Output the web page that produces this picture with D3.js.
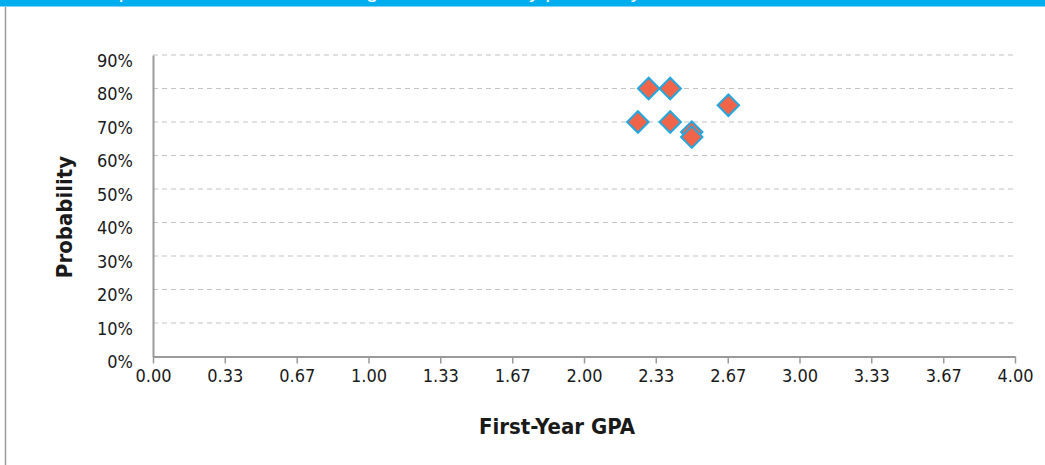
<!DOCTYPE html>
<html>
<head>
<meta charset="utf-8">
<script src="https://cdn.jsdelivr.net/npm/d3@7"></script>
<style>
  html, body { margin: 0; padding: 0; background: #fff; }
  svg { display: block; font-family: "DejaVu Sans", sans-serif; font-stretch: condensed; }
</style>
</head>
<body>
<svg id="chart" width="1045" height="465"></svg>
<script>
// First-year GPA vs. probability, one point per student
const gpa         = [2.30, 2.40, 2.25, 2.40, 2.50, 2.50, 2.67];
const probability = [0.80, 0.80, 0.70, 0.70, 0.67, 0.655, 0.75];

const xTickValues = [0, 0.333, 0.667, 1, 1.333, 1.667, 2, 2.333, 2.667, 3, 3.333, 3.667, 4];
const xTickLabels = ["0.00", "0.33", "0.67", "1.00", "1.33", "1.67", "2.00", "2.33", "2.67", "3.00", "3.33", "3.67", "4.00"];
const yTickValues = [0, 0.1, 0.2, 0.3, 0.4, 0.5, 0.6, 0.7, 0.8, 0.9];
const yTickLabels = ["0%", "10%", "20%", "30%", "40%", "50%", "60%", "70%", "80%", "90%"];

const titleText = "Students' predicted chance of earning a certain GPA by probability";
const xTitle = "First-Year GPA";
const yTitle = "Probability";

const svg = d3.select("#chart");
const W = 1045, H = 465;
const textColor = "#1a1a1a";

// Header band and frame
svg.append("rect").attr("x", 0).attr("y", 0).attr("width", W).attr("height", 6).attr("fill", "#00AEEF");
svg.append("rect").attr("x", 0).attr("y", 6).attr("width", W).attr("height", 1).attr("fill", "#7FD3F4");
svg.append("text").attr("x", 26).attr("y", -2)
  .attr("fill", "#fff").attr("font-family", "Liberation Sans, Arial, sans-serif")
  .style("font-stretch", "normal")
  .attr("font-size", 21).text(titleText);
svg.append("line").attr("x1", 5.5).attr("x2", 5.5).attr("y1", 7).attr("y2", H)
  .attr("stroke", "#9a9a9a").attr("stroke-width", 1.5);

const x = d3.scaleLinear().domain([0, 4]).range([153, 1015]);
const y = d3.scaleLinear().domain([0, 0.9]).range([356.5, 55]);

// Horizontal dashed gridlines
svg.append("g").selectAll("line")
  .data(yTickValues.filter(v => v > 0))
  .join("line")
  .attr("x1", x(0)).attr("x2", x(4) - 2)
  .attr("y1", d => y(d)).attr("y2", d => y(d))
  .attr("stroke", "#c4c4c4").attr("stroke-width", 1.2)
  .attr("stroke-dasharray", "5,4");

// X axis
const xAxis = d3.axisBottom(x)
  .tickValues(xTickValues)
  .tickFormat((d, i) => xTickLabels[i])
  .tickSize(7).tickSizeOuter(0).tickPadding(6);
const gx = svg.append("g").attr("transform", `translate(0,${y(0)})`).call(xAxis);
gx.attr("font-family", null).attr("font-size", null);
gx.select(".domain").attr("stroke", "#9a9a9a").attr("stroke-width", 2);
gx.selectAll(".tick line").attr("stroke", "#9a9a9a").attr("stroke-width", 1.5);
gx.selectAll(".tick text").attr("fill", textColor).attr("font-size", 18);

// Y axis
const yAxis = d3.axisLeft(y)
  .tickValues(yTickValues)
  .tickFormat((d, i) => yTickLabels[i])
  .tickSize(0).tickPadding(20);
const gy = svg.append("g").attr("transform", `translate(${x(0)},0)`).call(yAxis);
gy.attr("font-family", null).attr("font-size", null);
gy.select(".domain").attr("stroke", "#9a9a9a").attr("stroke-width", 2);
gy.selectAll(".tick text").attr("fill", textColor).attr("font-size", 18)
  .attr("dy", "0.62em");

// Axis titles
svg.append("text").attr("x", 557).attr("y", 434).attr("text-anchor", "middle")
  .attr("font-size", 22).attr("font-weight", "bold").attr("fill", textColor).text(xTitle);
svg.append("text").attr("transform", "translate(72,217) rotate(-90)").attr("text-anchor", "middle")
  .attr("font-size", 22).attr("font-weight", "bold").attr("fill", textColor).text(yTitle);

// Diamond markers
const diamond = d3.symbol().type(d3.symbolSquare).size(230);
svg.append("g").selectAll("path")
  .data(gpa.map((g, i) => [g, probability[i]]))
  .join("path")
  .attr("d", diamond)
  .attr("transform", d => `translate(${x(d[0])},${y(d[1])}) rotate(45)`)
  .attr("fill", "#F0654A")
  .attr("stroke", "#22A8E0")
  .attr("stroke-width", 2);
</script>
</body>
</html>
